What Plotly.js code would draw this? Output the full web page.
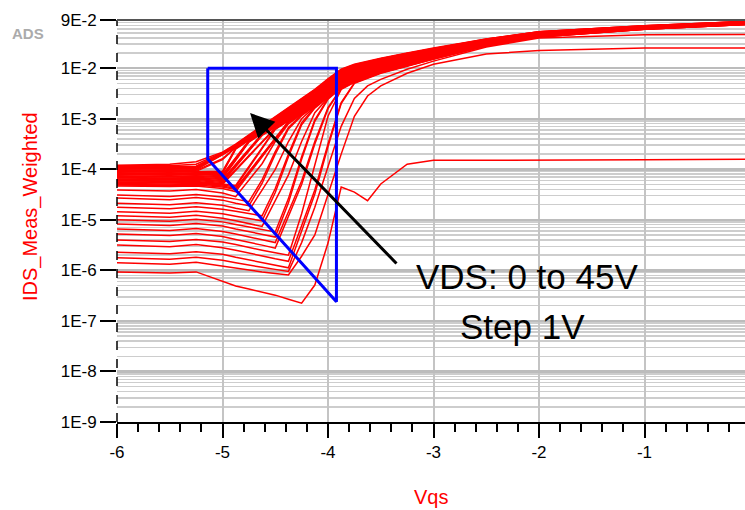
<!DOCTYPE html>
<html>
<head>
<meta charset="utf-8">
<script src="https://cdn.plot.ly/plotly-3.0.1.min.js"></script>
<style>
html,body{margin:0;padding:0;background:#fff;overflow:hidden;width:745px;height:510px;}
#chart{width:750px;height:510px;}
</style>
</head>
<body>
<div id="chart"></div>
<script>
// Gate voltage sweep (Vqs), shared by all curves
const vgs = [-6, -5.5, -5.25, -5, -4.875, -4.75, -4.625, -4.5, -4.375, -4.25, -4.125, -4, -3.875, -3.75, -3.625, -3.5, -3.25, -3, -2.5, -2, -1, 0];

// Drain bias of each curve (V)
const vdsSteps = [0,1,2,3,4,5,6,7,8,9,10,11,12,13,14,15,16,17,18,19,20,21,22,23,24,25,26,27,28,29,30,31,32,33,34,35,36,37,38,39,40,41,42,43,44,45];

// log10(IDS_Meas_Weighted), one row per VDS step
const idsLog10 = [
[-6.03,-6.05,-6.03,-6.22,-6.31,-6.37,-6.43,-6.49,-6.57,-6.65,-6.29,-5.46,-4.35,-4.45,-4.62,-4.29,-3.90,-3.82,-3.82,-3.82,-3.81,-3.80],
[-5.85,-5.88,-5.84,-5.92,-5.96,-6.00,-6.03,-6.06,-6.09,-5.72,-5.30,-4.50,-3.70,-2.95,-2.55,-2.35,-2.10,-1.92,-1.72,-1.65,-1.60,-1.60],
[-5.75,-5.78,-5.74,-5.80,-5.85,-5.90,-5.94,-5.98,-6.02,-5.45,-4.75,-3.95,-3.15,-2.60,-2.35,-2.22,-2.02,-1.86,-1.58,-1.40,-1.34,-1.33],
[-5.64,-5.67,-5.63,-5.68,-5.74,-5.79,-5.84,-5.90,-5.95,-5.22,-4.49,-3.55,-2.70,-2.30,-2.20,-2.10,-1.96,-1.82,-1.56,-1.38,-1.23,-1.13],
[-5.50,-5.53,-5.49,-5.55,-5.60,-5.66,-5.71,-5.77,-5.82,-5.11,-4.41,-3.50,-2.68,-2.29,-2.19,-2.09,-1.95,-1.82,-1.56,-1.38,-1.23,-1.13],
[-5.40,-5.43,-5.39,-5.44,-5.49,-5.55,-5.60,-5.65,-5.70,-4.88,-3.90,-2.95,-2.42,-2.28,-2.18,-2.09,-1.95,-1.81,-1.55,-1.38,-1.23,-1.13],
[-5.28,-5.31,-5.27,-5.33,-5.39,-5.44,-5.50,-5.56,-4.93,-4.30,-3.50,-2.80,-2.41,-2.27,-2.18,-2.08,-1.94,-1.80,-1.55,-1.37,-1.23,-1.13],
[-5.18,-5.21,-5.17,-5.23,-5.28,-5.34,-5.39,-5.45,-4.84,-4.23,-3.45,-2.78,-2.40,-2.26,-2.17,-2.07,-1.94,-1.80,-1.55,-1.37,-1.22,-1.12],
[-5.08,-5.11,-5.07,-5.12,-5.18,-5.23,-5.29,-5.34,-4.66,-3.80,-3.05,-2.61,-2.39,-2.26,-2.16,-2.06,-1.93,-1.79,-1.54,-1.37,-1.22,-1.12],
[-5.00,-5.03,-4.99,-5.04,-5.09,-5.14,-5.19,-5.24,-4.58,-3.75,-3.02,-2.60,-2.38,-2.25,-2.15,-2.06,-1.92,-1.79,-1.54,-1.37,-1.22,-1.12],
[-4.92,-4.95,-4.91,-4.97,-5.02,-5.08,-5.13,-4.62,-4.11,-3.45,-2.88,-2.59,-2.37,-2.24,-2.14,-2.05,-1.92,-1.78,-1.54,-1.36,-1.22,-1.12],
[-4.84,-4.87,-4.83,-4.88,-4.93,-4.97,-5.02,-4.46,-3.75,-3.12,-2.79,-2.58,-2.36,-2.23,-2.14,-2.04,-1.91,-1.78,-1.53,-1.36,-1.22,-1.12],
[-4.75,-4.78,-4.74,-4.79,-4.83,-4.88,-4.92,-4.38,-3.70,-3.08,-2.77,-2.56,-2.35,-2.22,-2.13,-2.04,-1.90,-1.77,-1.53,-1.36,-1.22,-1.12],
[-4.67,-4.70,-4.66,-4.71,-4.77,-4.82,-4.41,-4.00,-3.45,-3.00,-2.76,-2.55,-2.34,-2.21,-2.12,-2.03,-1.90,-1.77,-1.53,-1.36,-1.21,-1.12],
[-4.57,-4.60,-4.56,-4.61,-4.67,-4.72,-4.28,-3.70,-3.20,-2.94,-2.75,-2.54,-2.33,-2.20,-2.11,-2.02,-1.89,-1.76,-1.52,-1.35,-1.21,-1.11],
[-4.51,-4.54,-4.50,-4.55,-4.59,-4.64,-4.21,-3.65,-3.17,-2.92,-2.74,-2.53,-2.32,-2.19,-2.10,-2.01,-1.89,-1.76,-1.52,-1.35,-1.21,-1.11],
[-4.41,-4.43,-4.40,-4.47,-4.54,-4.21,-3.89,-3.45,-3.10,-2.91,-2.73,-2.52,-2.31,-2.18,-2.10,-2.01,-1.88,-1.75,-1.52,-1.35,-1.21,-1.11],
[-4.33,-4.34,-4.33,-4.38,-4.44,-4.10,-3.76,-3.41,-3.07,-2.90,-2.72,-2.51,-2.30,-2.17,-2.09,-2.00,-1.87,-1.75,-1.51,-1.35,-1.21,-1.11],
[-4.31,-4.32,-4.31,-4.35,-4.40,-4.07,-3.73,-3.40,-3.06,-2.89,-2.71,-2.50,-2.29,-2.16,-2.08,-1.99,-1.87,-1.74,-1.51,-1.34,-1.21,-1.11],
[-4.30,-4.31,-4.29,-4.33,-4.38,-4.05,-3.72,-3.38,-3.05,-2.88,-2.70,-2.49,-2.28,-2.16,-2.07,-1.99,-1.86,-1.74,-1.51,-1.34,-1.20,-1.11],
[-4.28,-4.29,-4.28,-4.31,-4.35,-3.97,-3.59,-3.21,-3.04,-2.87,-2.69,-2.48,-2.27,-2.15,-2.06,-1.98,-1.86,-1.73,-1.50,-1.34,-1.20,-1.11],
[-4.26,-4.27,-4.26,-4.29,-4.32,-3.95,-3.57,-3.20,-3.03,-2.86,-2.68,-2.47,-2.26,-2.14,-2.05,-1.97,-1.85,-1.73,-1.50,-1.34,-1.20,-1.10],
[-4.25,-4.26,-4.26,-4.30,-4.02,-3.75,-3.47,-3.19,-3.02,-2.85,-2.67,-2.46,-2.25,-2.13,-2.05,-1.96,-1.84,-1.72,-1.50,-1.34,-1.20,-1.10],
[-4.23,-4.24,-4.24,-4.28,-4.01,-3.73,-3.46,-3.18,-3.01,-2.84,-2.66,-2.45,-2.24,-2.12,-2.04,-1.96,-1.84,-1.72,-1.49,-1.33,-1.20,-1.10],
[-4.22,-4.23,-4.22,-4.26,-3.95,-3.64,-3.33,-3.17,-3.00,-2.83,-2.65,-2.44,-2.23,-2.11,-2.03,-1.95,-1.83,-1.71,-1.49,-1.33,-1.20,-1.10],
[-4.20,-4.21,-4.20,-4.24,-3.93,-3.63,-3.32,-3.16,-2.99,-2.82,-2.63,-2.42,-2.22,-2.10,-2.02,-1.94,-1.82,-1.71,-1.49,-1.33,-1.19,-1.10],
[-4.19,-4.20,-4.19,-4.22,-3.92,-3.61,-3.31,-3.15,-2.98,-2.81,-2.62,-2.41,-2.21,-2.09,-2.01,-1.94,-1.82,-1.70,-1.48,-1.33,-1.19,-1.10],
[-4.17,-4.18,-4.17,-4.20,-3.90,-3.60,-3.30,-3.14,-2.97,-2.80,-2.61,-2.40,-2.20,-2.08,-2.01,-1.93,-1.81,-1.69,-1.48,-1.32,-1.19,-1.10],
[-4.16,-4.17,-4.16,-4.18,-3.82,-3.46,-3.29,-3.13,-2.96,-2.79,-2.60,-2.39,-2.19,-2.07,-2.00,-1.92,-1.81,-1.69,-1.48,-1.32,-1.19,-1.09],
[-4.14,-4.15,-4.14,-4.16,-3.81,-3.45,-3.28,-3.12,-2.95,-2.78,-2.59,-2.38,-2.18,-2.07,-1.99,-1.91,-1.80,-1.68,-1.47,-1.32,-1.19,-1.09],
[-4.13,-4.14,-4.13,-4.14,-3.80,-3.45,-3.27,-3.11,-2.94,-2.77,-2.58,-2.37,-2.17,-2.06,-1.98,-1.91,-1.79,-1.68,-1.47,-1.32,-1.19,-1.09],
[-4.11,-4.12,-4.11,-4.12,-3.78,-3.44,-3.26,-3.10,-2.93,-2.76,-2.57,-2.36,-2.16,-2.05,-1.97,-1.90,-1.79,-1.67,-1.47,-1.31,-1.18,-1.09],
[-4.10,-4.11,-4.10,-4.10,-3.77,-3.43,-3.26,-3.09,-2.92,-2.75,-2.56,-2.35,-2.15,-2.04,-1.97,-1.89,-1.78,-1.67,-1.46,-1.31,-1.18,-1.09],
[-4.08,-4.09,-4.08,-4.08,-3.60,-3.42,-3.25,-3.08,-2.91,-2.74,-2.55,-2.34,-2.14,-2.03,-1.96,-1.89,-1.77,-1.66,-1.46,-1.31,-1.18,-1.09],
[-4.07,-4.08,-4.07,-4.06,-3.59,-3.41,-3.24,-3.08,-2.90,-2.73,-2.54,-2.33,-2.13,-2.02,-1.95,-1.88,-1.77,-1.66,-1.46,-1.31,-1.18,-1.09],
[-4.05,-4.06,-4.05,-4.04,-3.58,-3.40,-3.23,-3.07,-2.89,-2.72,-2.53,-2.32,-2.12,-2.01,-1.94,-1.87,-1.76,-1.65,-1.45,-1.30,-1.18,-1.08],
[-4.04,-4.05,-4.04,-3.81,-3.57,-3.40,-3.22,-3.06,-2.88,-2.70,-2.52,-2.31,-2.11,-2.00,-1.93,-1.86,-1.76,-1.65,-1.45,-1.30,-1.18,-1.08],
[-4.02,-4.03,-4.02,-3.79,-3.56,-3.39,-3.21,-3.05,-2.87,-2.69,-2.51,-2.30,-2.10,-1.99,-1.92,-1.86,-1.75,-1.64,-1.45,-1.30,-1.17,-1.08],
[-4.01,-4.02,-4.01,-3.71,-3.56,-3.38,-3.20,-3.04,-2.86,-2.68,-2.50,-2.29,-2.09,-1.98,-1.92,-1.85,-1.74,-1.64,-1.44,-1.30,-1.17,-1.08],
[-3.99,-4.00,-3.99,-3.71,-3.55,-3.37,-3.19,-3.03,-2.85,-2.67,-2.48,-2.27,-2.08,-1.97,-1.91,-1.84,-1.74,-1.63,-1.44,-1.29,-1.17,-1.08],
[-3.98,-3.99,-3.98,-3.70,-3.54,-3.36,-3.18,-3.02,-2.84,-2.66,-2.47,-2.26,-2.07,-1.97,-1.90,-1.84,-1.73,-1.63,-1.44,-1.29,-1.17,-1.08],
[-3.96,-3.97,-3.96,-3.69,-3.53,-3.35,-3.18,-3.01,-2.83,-2.65,-2.46,-2.25,-2.06,-1.96,-1.89,-1.83,-1.72,-1.62,-1.43,-1.29,-1.17,-1.08],
[-3.95,-3.96,-3.95,-3.68,-3.52,-3.35,-3.17,-3.00,-2.82,-2.64,-2.45,-2.24,-2.05,-1.95,-1.88,-1.82,-1.72,-1.62,-1.43,-1.29,-1.17,-1.07],
[-3.94,-3.95,-3.94,-3.68,-3.52,-3.34,-3.16,-2.99,-2.81,-2.63,-2.44,-2.23,-2.04,-1.94,-1.88,-1.81,-1.71,-1.61,-1.43,-1.28,-1.16,-1.07],
[-3.93,-3.93,-3.90,-3.67,-3.51,-3.33,-3.15,-2.98,-2.80,-2.62,-2.43,-2.22,-2.03,-1.93,-1.87,-1.81,-1.71,-1.61,-1.42,-1.28,-1.16,-1.07],
[-3.92,-3.90,-3.85,-3.66,-3.50,-3.32,-3.14,-2.97,-2.79,-2.61,-2.42,-2.21,-2.02,-1.92,-1.86,-1.80,-1.70,-1.60,-1.42,-1.28,-1.16,-1.07]
];

// Hand-drawn blue outline (Vqs, IDS)
const outlineVgs = [-5.14, -3.92, -3.92, -5.14, -5.14];
const outlineIds = [1e-2, 1e-2, 2.4e-7, 1.6e-4, 1e-2];

// Axis ticks
const xTickVals = [-6, -5, -4, -3, -2, -1, 0];
const xTickText = ['-6', '-5', '-4', '-3', '-2', '-1', '0'];
const yTickVals = [1e-9, 1e-8, 1e-7, 1e-6, 1e-5, 1e-4, 1e-3, 1e-2, 9e-2];
const yTickText = ['1E-9', '1E-8', '1E-7', '1E-6', '1E-5', '1E-4', '1E-3', '1E-2', '9E-2'];
const gridDecades = [1e-9, 1e-8, 1e-7, 1e-6, 1e-5, 1e-4, 1e-3, 1e-2];
const gridMantissas = [2, 3, 4, 5, 6, 7, 8, 9];

const minorGrid = [];
gridDecades.forEach(d => gridMantissas.forEach(m => { if (m * d <= 0.09 + 1e-12) minorGrid.push(m * d); }));

const traces = idsLog10.map((row, i) => ({
  type: 'scatter', mode: 'lines',
  x: vgs, y: row.map(v => Math.pow(10, v)),
  name: 'VDS=' + vdsSteps[i] + 'V',
  line: {color: '#ff0000', width: 1.5},
  hoverinfo: 'skip', showlegend: false
}));
traces.push({
  type: 'scatter', mode: 'lines', x: outlineVgs, y: outlineIds,
  line: {color: '#0000ff', width: 3}, hoverinfo: 'skip', showlegend: false
});

const FONT = 'Liberation Sans, Arial, sans-serif';
const yTop = Math.log10(0.09);

const layout = {
  width: 750, height: 510,
  margin: {l: 117, r: 0, t: 20, b: 88, pad: 0},
  paper_bgcolor: '#ffffff', plot_bgcolor: '#ffffff',
  showlegend: false,
  font: {family: FONT, color: '#000', size: 17},
  xaxis: {
    range: [-6, 0], tickmode: 'array', tickvals: xTickVals, ticktext: xTickText,
    ticks: 'outside', ticklen: 14, tickwidth: 2, tickcolor: '#000',
    tickfont: {family: FONT, size: 17, color: '#000'},
    showgrid: true, gridcolor: '#c4c4c4', gridwidth: 2,
    showline: true, linecolor: '#000', linewidth: 2, zeroline: false,
    minor: {tickmode: 'linear', tick0: -6, dtick: 0.2, ticks: 'outside', ticklen: 8, tickwidth: 2, tickcolor: '#000', showgrid: false},
    fixedrange: true
  },
  yaxis: {
    type: 'log', range: [-9, yTop], tickmode: 'array', tickvals: yTickVals, ticktext: yTickText,
    ticks: 'outside', ticklen: 16, tickwidth: 2, tickcolor: '#000',
    tickfont: {family: FONT, size: 17, color: '#000'},
    showgrid: true, gridcolor: '#bcbcbc', gridwidth: 2.5,
    showline: false, zeroline: false,
    minor: {tickmode: 'array', tickvals: minorGrid, ticks: '', showgrid: true, gridcolor: '#cdcdcd', gridwidth: 1.5},
    fixedrange: true
  },
  shapes: [
    {type: 'line', xref: 'paper', yref: 'paper', x0: 0, x1: 0, y0: 0, y1: 1, line: {color: '#000', width: 1.5, dash: 'dash'}},
    {type: 'line', xref: 'paper', yref: 'paper', x0: 0, x1: 1, y0: 1, y1: 1, line: {color: '#555', width: 2}}
  ],
  annotations: [
    {xref: 'paper', yref: 'paper', x: 0, y: 1, xshift: -89, yshift: -13, xanchor: 'center', yanchor: 'middle',
     text: '<b>ADS</b>', showarrow: false, font: {family: FONT, size: 15, color: '#ababab'}},
    {xref: 'paper', yref: 'paper', x: 0, y: 0.5, xshift: -87, yshift: 14, xanchor: 'center', yanchor: 'middle',
     text: 'IDS_Meas_Weighted', textangle: -90, showarrow: false, font: {family: FONT, size: 20, color: '#ff0000'}},
    {xref: 'paper', yref: 'paper', x: 0.5, y: 0, xshift: -3, yshift: -75, xanchor: 'center', yanchor: 'middle',
     text: 'Vqs', showarrow: false, font: {family: FONT, size: 20, color: '#ff0000'}},
    {xref: 'x', yref: 'y', x: -4.739, y: -2.886, axref: 'x', ayref: 'y', ax: -3.337, ay: -5.893,
     text: '', showarrow: true, arrowhead: 2, arrowsize: 1.6, arrowwidth: 3, arrowcolor: '#000', standoff: 0},
    {xref: 'x', yref: 'y', x: -2.114, y: -6.13, xanchor: 'center', yanchor: 'middle',
     text: 'VDS: 0 to 45V', showarrow: false, font: {family: FONT, size: 35, color: '#000'}},
    {xref: 'x', yref: 'y', x: -2.161, y: -7.12, xanchor: 'center', yanchor: 'middle',
     text: 'Step 1V', showarrow: false, font: {family: FONT, size: 35, color: '#000'}}
  ]
};

Plotly.newPlot('chart', traces, layout, {staticPlot: true, displayModeBar: false});
</script>
</body>
</html>
